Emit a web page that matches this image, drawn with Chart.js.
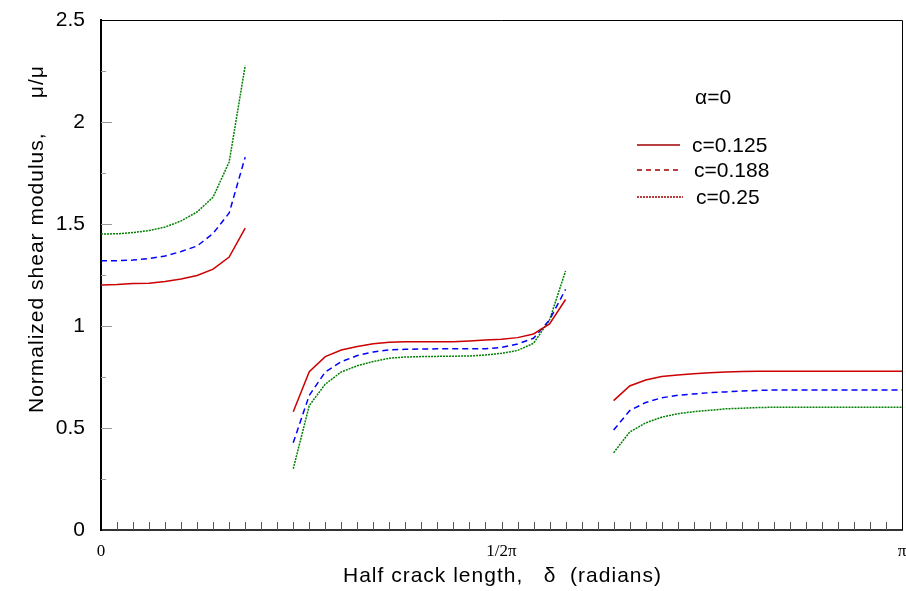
<!DOCTYPE html>
<html>
<head>
<meta charset="utf-8">
<script src="https://cdn.jsdelivr.net/npm/chart.js@4.4.0/dist/chart.umd.min.js"></script>
<style>
html, body { margin: 0; padding: 0; background: #fff; }
#wrap { width: 906px; height: 591px; }
</style>
</head>
<body>
<div id="wrap"><canvas id="shearChart"></canvas></div>
<script>
// half crack length as a fraction of pi, one array per branch
const seg1 = [0, 0.02, 0.04, 0.06, 0.08, 0.10, 0.12, 0.14, 0.16, 0.18];
const seg2 = [0.24, 0.26, 0.28, 0.30, 0.32, 0.34, 0.36, 0.38, 0.40, 0.42, 0.44, 0.46, 0.48, 0.50, 0.52, 0.54, 0.56, 0.58];
const seg3 = [0.64, 0.66, 0.68, 0.70, 0.72, 0.74, 0.76, 0.78, 0.80, 0.82, 0.84, 0.86, 0.88, 0.90, 0.92, 0.94, 0.96, 0.98, 1.00];

// c = 0.125
const c125_1 = [1.201, 1.203, 1.208, 1.210, 1.218, 1.230, 1.248, 1.279, 1.338, 1.480];
const c125_2 = [0.580, 0.776, 0.850, 0.882, 0.900, 0.913, 0.920, 0.923, 0.923, 0.923, 0.923, 0.927, 0.931, 0.935, 0.943, 0.961, 1.010, 1.130];
const c125_3 = [0.634, 0.706, 0.735, 0.752, 0.760, 0.766, 0.771, 0.774, 0.777, 0.778, 0.778, 0.778, 0.778, 0.778, 0.778, 0.778, 0.778, 0.778, 0.778];

// c = 0.188
const c188_1 = [1.320, 1.320, 1.323, 1.331, 1.343, 1.365, 1.392, 1.454, 1.554, 1.828];
const c188_2 = [0.428, 0.660, 0.775, 0.825, 0.855, 0.873, 0.883, 0.886, 0.887, 0.888, 0.888, 0.889, 0.889, 0.895, 0.912, 0.940, 1.030, 1.180];
const c188_3 = [0.490, 0.585, 0.625, 0.648, 0.660, 0.667, 0.673, 0.677, 0.681, 0.684, 0.686, 0.686, 0.686, 0.686, 0.686, 0.686, 0.686, 0.686, 0.686];

// c = 0.25
const c250_1 = [1.451, 1.452, 1.458, 1.468, 1.485, 1.515, 1.559, 1.632, 1.804, 2.276];
const c250_2 = [0.300, 0.610, 0.715, 0.775, 0.805, 0.826, 0.842, 0.848, 0.850, 0.851, 0.852, 0.853, 0.858, 0.866, 0.880, 0.915, 1.030, 1.270];
const c250_3 = [0.379, 0.480, 0.525, 0.553, 0.570, 0.580, 0.587, 0.594, 0.597, 0.600, 0.602, 0.602, 0.602, 0.602, 0.602, 0.602, 0.602, 0.602, 0.602];

const seriesNames = ['c=0.125', 'c=0.188', 'c=0.25'];
const xLabelSteps = [0, 25, 50];
const xLabelTexts = ['0', '1/2\u03c0', '\u03c0'];
const yTitle = 'Normalized shear modulus,     \u03bc/\u03bc';
const xTitle = 'Half crack length,   \u03b4  (radians)';
const legendTitle = '\u03b1=0';

const sansFont = '"Liberation Sans", Arial, sans-serif';

function toPoints(xs, ys) {
    return xs.map((f, i) => ({ x: f * Math.PI, y: ys[i] }));
}

function branches(a, b, c) {
    return [
        ...toPoints(seg1, a), { x: 0.21 * Math.PI, y: null },
        ...toPoints(seg2, b), { x: 0.61 * Math.PI, y: null },
        ...toPoints(seg3, c)
    ];
}

const frame = {
    id: 'frame',
    afterDraw(chart) {
        const { ctx, chartArea: a, scales: { x, y } } = chart;
        ctx.save();

        // thin top and right border
        ctx.strokeStyle = '#000';
        ctx.lineWidth = 1;
        ctx.beginPath();
        ctx.moveTo(a.left, a.top + 0.5);
        ctx.lineTo(a.right + 0.5, a.top + 0.5);
        ctx.lineTo(a.right + 0.5, a.bottom);
        ctx.stroke();

        // inward ticks
        ctx.strokeStyle = '#555';
        for (let k = 1; k < 50; k++) {
            const px = Math.round(x.getPixelForValue(k * Math.PI / 50)) + 0.5;
            ctx.beginPath();
            ctx.moveTo(px, a.bottom);
            ctx.lineTo(px, a.bottom - 8);
            ctx.stroke();
        }
        ctx.strokeStyle = '#999';
        for (let k = 1; k < 10; k++) {
            const py = Math.round(y.getPixelForValue(k * 0.25)) + 0.5;
            ctx.beginPath();
            ctx.moveTo(a.left, py);
            ctx.lineTo(a.left + (k % 2 === 0 ? 11 : 5), py);
            ctx.stroke();
        }

        // axis titles
        ctx.fillStyle = '#000';
        ctx.font = '21px ' + sansFont;
        ctx.textBaseline = 'middle';
        ctx.letterSpacing = '1px';
        ctx.textAlign = 'center';
        ctx.fillText(xTitle, (a.left + a.right) / 2 + 1, 576);
        ctx.save();
        ctx.translate(37, 413);
        ctx.rotate(-Math.PI / 2);
        ctx.textAlign = 'left';
        ctx.fillText(yTitle, 0, 0);
        ctx.restore();
        ctx.letterSpacing = '0px';

        // legend
        ctx.textAlign = 'left';
        ctx.fillText(legendTitle, 695, 98);
        const rows = [
            { y: 145, tx: 692, dash: [], x2: 680 },
            { y: 170, tx: 694, dash: [5, 4], x2: 680 },
            { y: 197, tx: 696, dash: [2, 1], x2: 683 }
        ];
        ctx.strokeStyle = '#a00000';
        ctx.lineWidth = 1.5;
        rows.forEach((r, i) => {
            ctx.setLineDash(r.dash);
            ctx.beginPath();
            ctx.moveTo(637, r.y);
            ctx.lineTo(r.x2, r.y);
            ctx.stroke();
            ctx.fillText(seriesNames[i], r.tx, r.y + 1);
        });
        ctx.restore();
    }
};

const ctx = document.getElementById('shearChart').getContext('2d');

new Chart(ctx, {
    type: 'line',
    data: {
        datasets: [
            {
                label: seriesNames[0],
                data: branches(c125_1, c125_2, c125_3),
                borderColor: '#cc0000',
                borderWidth: 1.5
            },
            {
                label: seriesNames[1],
                data: branches(c188_1, c188_2, c188_3),
                borderColor: '#0000ff',
                borderWidth: 1.5,
                borderDash: [6, 4]
            },
            {
                label: seriesNames[2],
                data: branches(c250_1, c250_2, c250_3),
                borderColor: '#008000',
                borderWidth: 1.5,
                borderDash: [2, 1]
            }
        ]
    },
    options: {
        responsive: true,
        maintainAspectRatio: false,
        animation: false,
        spanGaps: false,
        elements: {
            point: { radius: 0 },
            line: { tension: 0 }
        },
        layout: { padding: { top: 20, right: 4, left: 0, bottom: 0 } },
        plugins: {
            legend: { display: false },
            tooltip: { enabled: false }
        },
        scales: {
            x: {
                type: 'linear',
                min: 0,
                max: Math.PI,
                afterBuildTicks: scale => {
                    scale.ticks = Array.from({ length: 51 }, (_, k) => ({ value: k * Math.PI / 50 }));
                },
                afterFit: scale => {
                    scale.height = 61;
                    scale.paddingLeft = 0;
                    scale.paddingRight = 0;
                },
                grid: { display: false, drawTicks: false },
                border: { display: true, color: '#333', width: 2 },
                ticks: {
                    autoSkip: false,
                    maxRotation: 0,
                    padding: 11,
                    color: '#000',
                    font: { family: '"Liberation Serif", "Times New Roman", serif', size: 17 },
                    callback: (value, index) => {
                        const i = xLabelSteps.indexOf(index);
                        return i >= 0 ? xLabelTexts[i] : '';
                    }
                }
            },
            y: {
                min: 0,
                max: 2.5,
                afterFit: scale => {
                    scale.width = 101;
                    scale.paddingTop = 0;
                    scale.paddingBottom = 0;
                },
                grid: { display: false, drawTicks: false },
                border: { display: true, color: '#000', width: 2 },
                ticks: {
                    stepSize: 0.5,
                    padding: 16,
                    color: '#000',
                    font: { family: sansFont, size: 21 },
                    callback: value => String(value)
                }
            }
        }
    },
    plugins: [frame]
});
</script>
</body>
</html>
